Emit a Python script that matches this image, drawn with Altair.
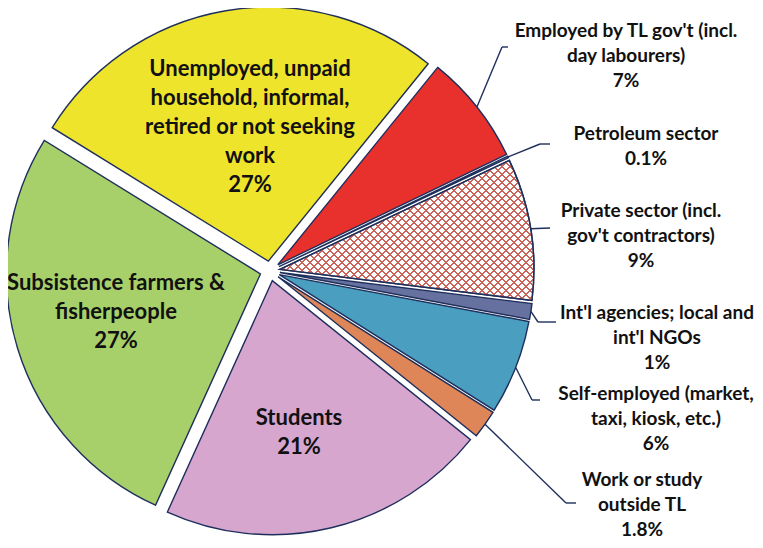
import math
import altair as alt
import pandas as pd

# ---------------- data ----------------
categories = [
    "Employed by TL gov't (incl. day labourers)",
    "Petroleum sector",
    "Private sector (incl. gov't contractors)",
    "Int'l agencies; local and int'l NGOs",
    "Self-employed (market, taxi, kiosk, etc.)",
    "Work or study outside TL",
    "Students",
    "Subsistence farmers & fisherpeople",
    "Unemployed, unpaid household, informal, retired or not seeking work",
]
shares = [7, 0.1, 9, 1, 6, 1.8, 21, 27, 27]
label_text = [
    "Employed by TL gov't (incl.\nday labourers)",
    "Petroleum sector",
    "Private sector (incl.\ngov't contractors)",
    "Int'l agencies; local and\nint'l NGOs",
    "Self-employed (market,\ntaxi, kiosk, etc.)",
    "Work or study\noutside TL",
    "Students",
    "Subsistence farmers &\nfisherpeople",
    "Unemployed, unpaid\nhousehold, informal,\nretired or not seeking\nwork",
]

# ---------------- styles / layout ----------------
colors = ["#E8302C", "#9DB3D8", "#FFFFFF", "#66719F", "#4A9EBF",
          "#DE8658", "#D6A6CF", "#A8D06A", "#EFE42C"]
NAVY = "#1F2F5C"
HATCH = "#C8645A"
OFF = 8                     # page margin
CX, CY = 270 - OFF, 271 - OFF
R, EXP = 254, 10
START = math.radians(39)
FONT = "Lato"
FS_IN, LH_IN = 22, 29
FS_OUT, LH_OUT = 19, 25

# label anchor (center x, center of first line y) in page pixels
label_pos = [(626, 30), (646, 133), (641, 210), (657, 312), (656, 393),
             (642, 479), (299, 417), (116, 282), (250, 68)]
# leader elbows and ends in page pixels (None for inside labels)
elbows = [(502, 47), (540, 144), (550, 228), (538, 322), (532, 400),
          (566, 503), None, None, None]
ends = [(508, 47), (550, 144), (550, 228), (556, 322), (540, 400),
        (576, 503), None, None, None]

rows = []
for i, (c, s, t) in enumerate(zip(categories, shares, label_text)):
    inner = i >= 6
    fs = FS_IN if inner else FS_OUT
    lx, ly = label_pos[i]
    row = dict(idx=i, cat=c, share=s, label=t + "\n" + f"{s:g}%",
               inner=inner,
               lx=lx - OFF, ly=ly - OFF - 0.43 * fs)
    if elbows[i] is not None:
        row.update(ex=elbows[i][0] - OFF, ey=elbows[i][1] - OFF,
                   hx=ends[i][0] - OFF, hy=ends[i][1] - OFF)
    rows.append(row)
df = pd.DataFrame(rows)

base = (
    alt.Chart(df)
    .transform_joinaggregate(total="sum(share)")
    .transform_window(cum="sum(share)", sort=[alt.SortField("idx")], frame=[None, 0])
    .transform_calculate(f0="(datum.cum - datum.share) / datum.total",
                         f1="datum.cum / datum.total")
    .transform_calculate(mid=f"{START} + PI * (datum.f0 + datum.f1)")
    .transform_calculate(
        px=f"{CX} + {EXP} * sin(datum.mid)",
        py=f"{CY} - {EXP} * cos(datum.mid)",
        ax=f"{CX} + {R + EXP} * sin(datum.mid)",
        ay=f"{CY} - {R + EXP} * cos(datum.mid)",
    )
)

theta_scale = alt.Scale(domain=[0, 1], range=[START, START + 2 * math.pi])
arc_enc = dict(
    theta=alt.Theta("f0:Q", scale=theta_scale),
    theta2="f1:Q",
    x=alt.X("px:Q", scale=None),
    y=alt.Y("py:Q", scale=None),
)

pie = base.mark_arc(radius=R, stroke=NAVY, strokeWidth=1.4).encode(
    fill=alt.Fill("cat:N", scale=alt.Scale(domain=categories, range=colors), legend=None),
    **arc_enc,
)

# cross-hatch for the private-sector slice (two striped gradients)
W_BB, H_BB = 254.0, 140.0
k = (W_BB + H_BB) / (W_BB ** 2 + H_BB ** 2)
ga, gb = k * W_BB, k * H_BB
PERIOD = 8.0 / (W_BB + H_BB)
LW = 1.7 / (W_BB + H_BB)
clear = "rgba(200,100,90,0)"


def stripes():
    st = [{"offset": 0, "color": clear}]
    t = PERIOD / 2
    while t + LW / 2 < 1:
        a, b = round(t - LW / 2, 5), round(t + LW / 2, 5)
        st += [{"offset": a, "color": clear}, {"offset": a, "color": HATCH},
               {"offset": b, "color": HATCH}, {"offset": b, "color": clear}]
        t += PERIOD
    st.append({"offset": 1, "color": clear})
    return st


grad1 = {"gradient": "linear", "x1": 0, "y1": 0, "x2": ga, "y2": gb, "stops": stripes()}
grad2 = {"gradient": "linear", "x1": 0, "y1": 1, "x2": ga, "y2": 1 - gb, "stops": stripes()}

private_only = "datum.idx == 2"
hatch1 = base.transform_filter(private_only).mark_arc(radius=R, fill=grad1, strokeWidth=0).encode(**arc_enc)
hatch2 = base.transform_filter(private_only).mark_arc(
    radius=R, fill=grad2, stroke=NAVY, strokeWidth=1.4).encode(**arc_enc)

leaders = base.transform_filter("datum.idx < 6")
lead1 = leaders.mark_rule(color=NAVY, strokeWidth=1.4).encode(
    x=alt.X("ax:Q", scale=None), y=alt.Y("ay:Q", scale=None),
    x2="ex:Q", y2="ey:Q")
lead2 = leaders.mark_rule(color=NAVY, strokeWidth=1.4).encode(
    x=alt.X("ex:Q", scale=None), y=alt.Y("ey:Q", scale=None),
    x2="hx:Q", y2="hy:Q")

text_out = alt.Chart(df).transform_filter("!datum.inner").mark_text(
    font=FONT, fontWeight="bold", fontSize=FS_OUT, lineHeight=LH_OUT,
    align="center", baseline="top", lineBreak="\n", color="#111111",
).encode(x=alt.X("lx:Q", scale=None), y=alt.Y("ly:Q", scale=None), text="label:N")

text_in = alt.Chart(df).transform_filter("datum.inner").mark_text(
    font=FONT, fontWeight="bold", fontSize=FS_IN, lineHeight=LH_IN,
    align="center", baseline="top", lineBreak="\n", color="#111111",
).encode(x=alt.X("lx:Q", scale=None), y=alt.Y("ly:Q", scale=None), text="label:N")

chart = (
    alt.layer(pie, hatch1, hatch2, lead1, lead2, text_out, text_in)
    .properties(width=747, height=532, padding=0,
                autosize=alt.AutoSizeParams(type="none"), background="white")
    .configure_view(strokeWidth=0)
)

chart.save("out.html", embed_options={"renderer": "svg", "actions": False})
